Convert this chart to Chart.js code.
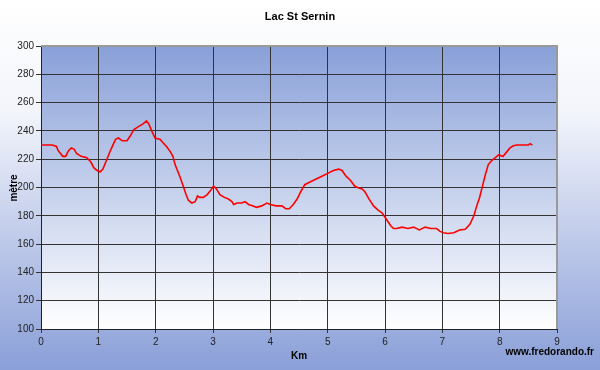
<!DOCTYPE html>
<html>
<head>
<meta charset="utf-8">
<script src="https://cdn.jsdelivr.net/npm/chart.js@4/dist/chart.umd.min.js"></script>
<style>
  html, body { margin: 0; padding: 0; background: #fff; }
  #wrap { width: 600px; height: 370px; }
</style>
</head>
<body>
<div id="wrap"><canvas id="profile" width="600" height="370"></canvas></div>
<script>
// Distance (km) and altitude (m)
const km = [
    0, 0.1, 0.2, 0.27, 0.3, 0.38, 0.43, 0.48, 0.53, 0.58, 0.62, 0.7, 0.8, 0.87, 0.92, 0.98,
    1.03, 1.08, 1.15, 1.22, 1.3, 1.35, 1.42, 1.5, 1.55, 1.62, 1.7, 1.78, 1.84, 1.88, 1.93, 1.99,
    2.08, 2.12, 2.19, 2.26, 2.3, 2.34, 2.42, 2.48, 2.53, 2.57, 2.63, 2.69, 2.73, 2.77, 2.83, 2.9, 2.96,
    3.01, 3.06, 3.12, 3.2, 3.26, 3.33, 3.36, 3.42, 3.5, 3.56, 3.62, 3.7, 3.76, 3.85, 3.94,
    4.0, 4.1, 4.2, 4.27, 4.33, 4.4, 4.47, 4.53, 4.6, 4.7, 4.8, 4.9,
    5.0, 5.1, 5.19, 5.25, 5.32, 5.4, 5.47, 5.52, 5.6, 5.65, 5.72, 5.8, 5.88, 5.95,
    6.0, 6.05, 6.1, 6.15, 6.2, 6.3, 6.4, 6.5, 6.6, 6.7, 6.8, 6.9, 6.96,
    7.02, 7.1, 7.2, 7.3, 7.4, 7.48, 7.55, 7.6, 7.65, 7.7, 7.75, 7.8, 7.86, 7.92, 7.98,
    8.06, 8.12, 8.18, 8.24, 8.3, 8.4, 8.5, 8.53, 8.57
];
const altitude = [
    230, 230, 230, 229, 226, 222, 222, 226, 228, 227, 224, 222, 221, 218, 214, 212,
    211, 213, 220, 227, 234, 235, 233, 233, 236, 241, 243, 245, 247, 245, 240, 235,
    234, 232, 229, 225, 222, 216, 208, 201, 195, 191, 189, 190, 194, 193, 193, 195, 198,
    201, 199, 195, 193, 192, 190, 188, 189, 189, 190, 188, 187, 186, 187, 189,
    188, 187, 187, 185, 185, 188, 192, 197, 202, 204, 206, 208,
    210, 212, 213, 212, 208, 205, 201, 200, 199, 197, 192, 187, 184, 182,
    179, 176, 173, 171, 171, 172, 171, 172, 170, 172, 171, 171, 169,
    168, 167.5, 168, 170, 170.5, 174, 180, 187, 193, 201, 209, 216, 219, 221, 223,
    222, 225, 228, 229.5, 230, 230, 230, 231, 230
];
const xTicks = [0, 1, 2, 3, 4, 5, 6, 7, 8, 9];
const yTicks = [100, 120, 140, 160, 180, 200, 220, 240, 260, 280, 300];

const FONT = '"Liberation Sans", Arial, sans-serif';

// Backgrounds, frame and the loose texts (title, axis names, site)
const decor = {
    id: 'decor',
    beforeDraw(chart) {
        const { ctx, chartArea: a, width, height } = chart;
        ctx.save();
        const outer = ctx.createLinearGradient(0, 0, 0, height);
        outer.addColorStop(0, '#ffffff');
        outer.addColorStop(0.3, '#f3f5fb');
        outer.addColorStop(1, '#8a9fd8');
        ctx.fillStyle = outer;
        ctx.fillRect(0, 0, width, height);

        const inner = ctx.createLinearGradient(0, a.top, 0, a.bottom);
        inner.addColorStop(0, '#89a0d8');
        inner.addColorStop(1, '#ffffff');
        ctx.fillStyle = inner;
        ctx.fillRect(a.left, a.top, a.right - a.left, a.bottom - a.top);
        ctx.restore();
    },
    afterDraw(chart) {
        const { ctx, chartArea: a } = chart;
        ctx.save();
        ctx.strokeStyle = '#9a9a9a';
        ctx.lineWidth = 2;
        ctx.beginPath();
        ctx.moveTo(a.left, a.top);
        ctx.lineTo(a.right, a.top);
        ctx.lineTo(a.right, a.bottom);
        ctx.stroke();

        ctx.fillStyle = '#000';
        ctx.textAlign = 'center';
        ctx.textBaseline = 'middle';
        ctx.font = 'bold 11px ' + FONT;
        ctx.fillText('Lac St Sernin', 300, 17);
        ctx.font = 'bold 10px ' + FONT;
        ctx.fillText('Km', 299, 356);
        ctx.textAlign = 'right';
        ctx.fillText('www.fredorando.fr', 594, 352);

        ctx.translate(14, 188);
        ctx.rotate(-Math.PI / 2);
        ctx.textAlign = 'center';
        ctx.fillText('mètre', 0, 0);
        ctx.restore();
    }
};

new Chart(document.getElementById('profile'), {
    type: 'line',
    data: {
        datasets: [{
            data: km.map((k, i) => ({ x: k, y: altitude[i] })),
            borderColor: '#ff0000',
            borderWidth: 1.6,
            pointRadius: 0,
            fill: false,
            tension: 0
        }]
    },
    options: {
        responsive: false,
        animation: false,
        layout: { padding: { top: 46, right: 43, left: 0, bottom: 0 } },
        plugins: { legend: { display: false }, tooltip: { enabled: false } },
        scales: {
            x: {
                type: 'linear',
                min: 0, max: 9,
                afterBuildTicks: s => { s.ticks = xTicks.map(v => ({ value: v })); },
                afterFit: s => { s.height = 41; },
                ticks: { color: '#222', font: { family: FONT, size: 10 }, padding: 3, maxRotation: 0 },
                grid: { color: '#333', lineWidth: 1, tickLength: 4 },
                border: { color: '#222', width: 1 }
            },
            y: {
                min: 100, max: 300,
                afterBuildTicks: s => { s.ticks = yTicks.map(v => ({ value: v })); },
                afterFit: s => { s.width = 41; },
                ticks: { color: '#222', font: { family: FONT, size: 10 }, padding: 2 },
                grid: { color: '#333', lineWidth: 1, tickLength: 5 },
                border: { color: '#222', width: 1 }
            }
        }
    },
    plugins: [decor]
});
</script>
</body>
</html>
